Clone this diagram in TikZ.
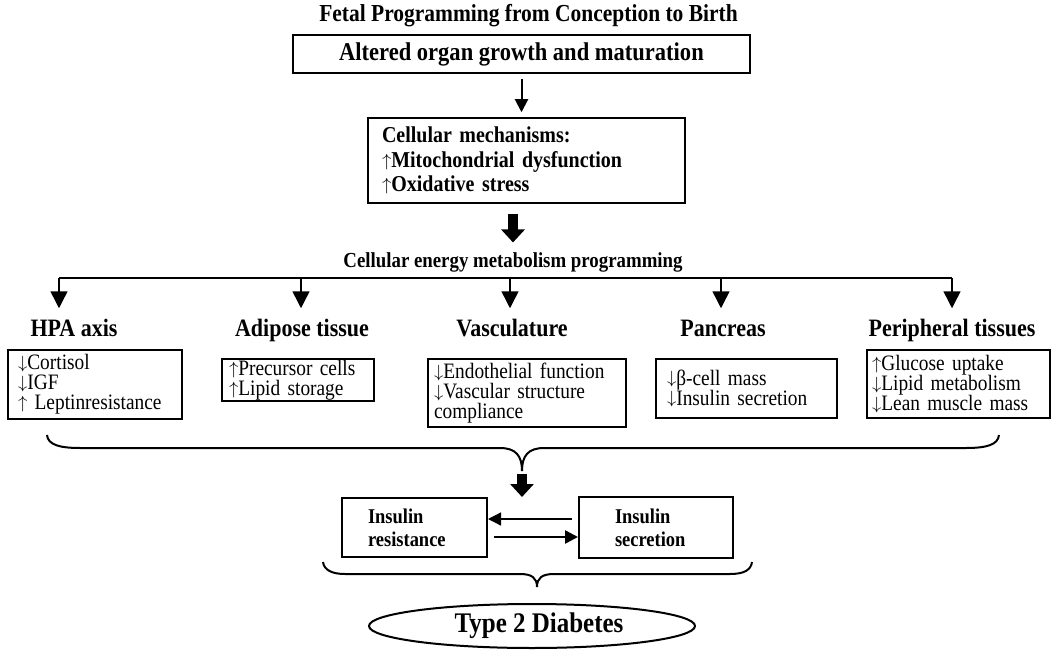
\documentclass[tikz,border=0pt]{standalone}
\usepackage{fontspec}
\setmainfont{Liberation Serif}[FakeStretch=0.88]
\usepackage{tikz}
\usetikzlibrary{arrows.meta}
\usetikzlibrary{positioning}
\usetikzlibrary{shapes.geometric}
\def\mybody{\fontsize{22}{20}\selectfont}
\def\myhead{\fontsize{25}{27}\selectfont\bfseries}
\newcommand\upar{{\mdseries\raisebox{0.05em}{\scalebox{0.9}[0.85]{$\uparrow$}}}}
\newcommand\dnar{{\mdseries\raisebox{0.05em}{\scalebox{0.9}[0.85]{$\downarrow$}}}}
\tikzset{
>={Triangle[width=13pt,length=13pt]}, % All arrows with filled triangle tip
my box/.style={draw,rectangle,inner sep=0pt,align=left},
fat/.style={line width=10pt,-{Triangle[width=23pt,length=13pt]}},
branch/.style={->,>={Triangle[width=17pt,length=17pt]}},
head/.style={font=\myhead,inner sep=0pt,text height=18pt,text depth=5pt},
effect/.style={my box,font=\mybody},
insulin/.style={my box,line width=2pt,font=\fontsize{21}{23}\selectfont\bfseries},
my brace/.style={line width=2pt}
}

\begin{document}
\begin{tikzpicture}[x=1pt,y=-1pt,line width=1.5pt]
\useasboundingbox (0,0) rectangle (1055,650);
\node[my box,line width=2.5pt,minimum width=457pt,minimum height=38pt,align=center,
      font=\fontsize{25.6}{28}\selectfont\bfseries] (o) at (521.5,54) {Altered organ growth and maturation};
\node[above=6pt of o,xshift=7pt,inner sep=0pt,font=\fontsize{24.4}{26}\selectfont\bfseries] (t) {Fetal Programming from Conception to Birth};
\node[my box,minimum width=317pt,minimum height=85pt,text width=289pt,
      font=\fontsize{22.7}{24.5}\selectfont\bfseries] (c) at (526.5,160.5)
      {Cellular mechanisms:\\\upar Mitochondrial dysfunction\\\upar Oxidative stress};
\node[inner sep=0pt,font=\fontsize{21.4}{24}\selectfont\bfseries] (e) at (513,262) {Cellular energy metabolism programming};
\draw[->,line width=2pt,shorten <=5pt,shorten >=5pt] (o.south) -- (o.south |- c.north);
\draw[fat,shorten <=10pt,shorten >=9pt] (e |- c.south) -- (e.north);

\coordinate (p1) at (59,278);
\coordinate (p2) at (301,278);
\coordinate (p3) at (510,278);
\coordinate (p4) at (721,278);
\coordinate (p5) at (952,278);
\draw (p1) -- (p5);

\node[head] (h1) at (74,329.5) {HPA axis};
\node[head] (h2) at (302,329.5) {Adipose tissue};
\node[head] (h3) at (512,329.5) {Vasculature};
\node[head] (h4) at (723,329.5) {Pancreas};
\node[head] (h5) at (952,329.5) {Peripheral tissues};
\draw[branch,shorten >=9pt] (p1) -- (p1 |- h1.north);
\draw[branch,shorten >=9pt] (p2) -- (p2 |- h2.north);
\draw[branch,shorten >=9pt] (p3) -- (p3 |- h3.north);
\draw[branch,shorten >=9pt] (p4) -- (p4 |- h4.north);
\draw[branch,shorten >=9pt] (p5) -- (p5 |- h5.north);

\node[effect,minimum width=174pt,minimum height=69pt,text width=154pt] (b1) at (95,384.5)
      {\dnar Cortisol\\\dnar IGF\\\upar\ Leptinresistance};
\node[effect,minimum width=152pt,minimum height=42pt,text width=138pt] (b2) at (298,380)
      {\upar Precursor cells\\\upar Lipid storage};
\node[effect,minimum width=198pt,minimum height=68pt,text width=186pt] (b3) at (527,393)
      {\dnar Endothelial function\\\dnar Vascular structure\\compliance};
\node[effect,minimum width=181pt,minimum height=59pt,text width=159pt] (b4) at (746.5,388.5)
      {\dnar β-cell mass\\\dnar Insulin secretion};
\node[effect,minimum width=183pt,minimum height=68pt,text width=173pt] (b5) at (958.5,384)
      {\upar Glucose uptake\\\dnar Lipid metabolism\\\dnar Lean muscle mass};

% brace gathering the five organs
\draw[my brace] (47,435) .. controls (48,445) and (60,448) .. (80,448) -- (500,448)
      .. controls (516,448) and (522,456) .. (522,471)
      .. controls (522,456) and (528,448) .. (544,448) -- (966,448)
      .. controls (986,448) and (998,445) .. (999,435);
\coordinate (j) at (522,471);

\node[insulin,minimum width=145pt,minimum height=59pt,text width=93pt] (ir) at (414.5,527.5) {Insulin\\resistance};
\node[insulin,minimum width=154pt,minimum height=61pt,text width=82pt] (is) at (656,527.5) {Insulin\\secretion};
\draw[fat,shorten <=3pt] (j) -- (j |- ir.north);
\draw[->,line width=1.3pt,shorten <=6pt] ([yshift=8.5pt]is.west) -- ([yshift=8.5pt]ir.east);
\draw[->,line width=2.5pt,shorten <=6pt] ([yshift=-9.5pt]ir.east) -- ([yshift=-9.5pt]is.west);

\draw[my brace] (323,562) .. controls (324,570) and (332,574) .. (345,574) -- (520,574)
      .. controls (532,574) and (537,578) .. (537,587)
      .. controls (537,578) and (542,574) .. (554,574) -- (730,574)
      .. controls (744,574) and (751,570) .. (752,562);

\node[draw,ellipse,line width=2pt,minimum width=326pt,minimum height=44pt,inner sep=0pt,
      font=\fontsize{28.4}{30}\selectfont\bfseries] (d) at (532,626) {\hspace*{14pt}Type 2 Diabetes};
\end{tikzpicture}
\end{document}
